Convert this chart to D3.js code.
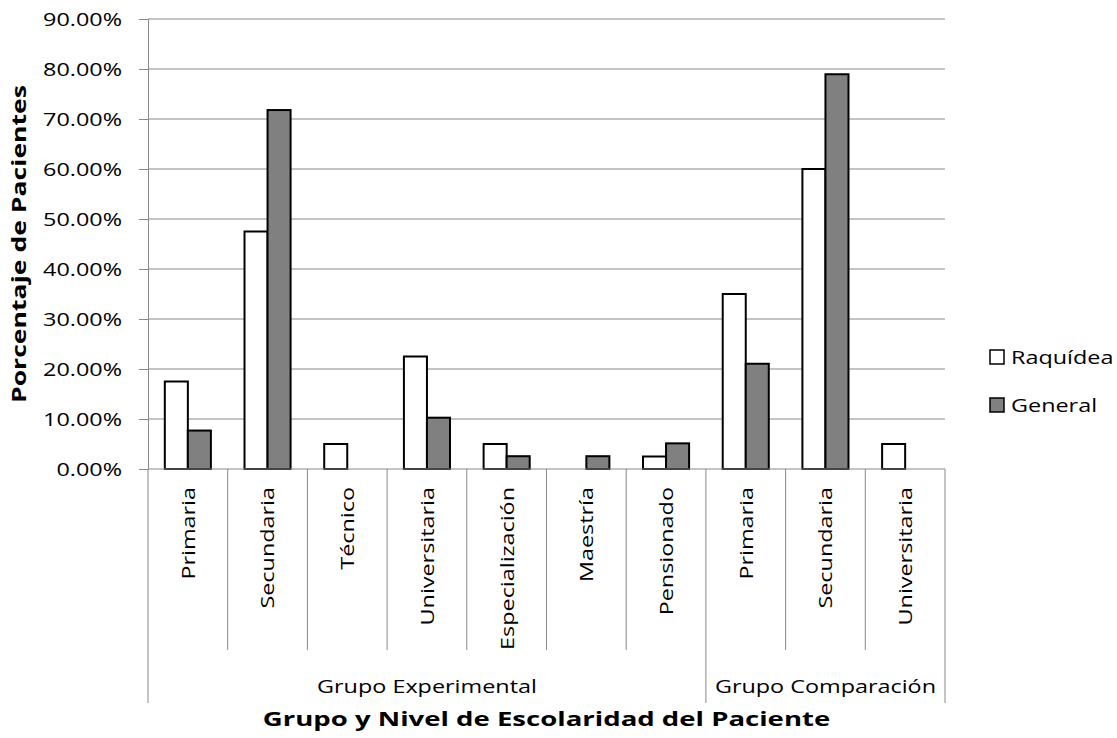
<html>
<head>
<meta charset="utf-8">
<title>Grupo y Nivel de Escolaridad del Paciente</title>
<script src="https://cdn.jsdelivr.net/npm/d3@7"></script>
<style>
  body { margin: 0; background: #fff; }
  text { font-family: "Open Sans", "Noto Sans", sans-serif; fill: #000; }
</style>
</head>
<body>
<div id="chart"></div>
<script>
// data
var categories = ["Primaria", "Secundaria", "Técnico", "Universitaria", "Especialización",
                  "Maestría", "Pensionado", "Primaria", "Secundaria", "Universitaria"];
var groupNames = ["Grupo Experimental", "Grupo Comparación"];
var groupSizes = [7, 3];
var seriesNames = ["Raquídea", "General"];
var raquidea = [17.5, 47.5, 5, 22.5, 5, 0, 2.5, 35, 60, 5];
var general = [7.69, 71.79, 0, 10.26, 2.56, 2.56, 5.13, 21.05, 78.95, 0];
var yTicks = [0, 10, 20, 30, 40, 50, 60, 70, 80, 90];

// view settings (plotTop, not "top": that name is taken by window.top)
var width = 1117, height = 738;
var plotLeft = 148, plotRight = 945, plotTop = 19, plotBottom = 469;
var stretch = 1.3;      // the original text is drawn wider than normal
var gridColor = "#898989";
var fills = ["#ffffff", "#808080"];

var svg = d3.select("#chart").append("svg")
    .attr("width", width)
    .attr("height", height);

var idx = d3.range(categories.length);

var x = d3.scaleBand().domain(idx).range([plotLeft, plotRight]).padding(0);
var xs = d3.scaleBand().domain(seriesNames).range([0, x.bandwidth()])
    .paddingInner(0).paddingOuter(0.73);
var y = d3.scaleLinear().domain([0, 90]).range([plotBottom, plotTop]);

// gridlines
svg.append("g").selectAll("line")
    .data(yTicks.filter(function(d) { return d > 0; }))
    .enter().append("line")
    .attr("x1", plotLeft).attr("x2", plotRight)
    .attr("y1", function(d) { return y(d); })
    .attr("y2", function(d) { return y(d); })
    .attr("stroke", gridColor).attr("stroke-width", 1);

// y axis
var yAxis = svg.append("g")
    .attr("transform", "translate(" + plotLeft + ",0)")
    .call(d3.axisLeft(y).tickValues(yTicks).tickSize(9).tickPadding(0)
        .tickFormat(function(d) { return d3.format(".2f")(d) + "%"; }));
yAxis.select(".domain").attr("stroke", gridColor);
yAxis.selectAll(".tick line").attr("stroke", gridColor);
yAxis.selectAll(".tick text")
    .attr("x", null).attr("dy", null)
    .attr("font-size", 18)
    .attr("fill", "#000")
    .attr("text-anchor", "end")
    .attr("dominant-baseline", "central")
    .attr("transform", "translate(-26,0) scale(" + stretch + ",1)");

// bars
var series = [raquidea, general];
series.forEach(function(vals, s) {
    svg.append("g").selectAll("rect")
        .data(idx.filter(function(i) { return vals[i] > 0; }))
        .enter().append("rect")
        .attr("x", function(i) { return x(i) + xs(seriesNames[s]); })
        .attr("y", function(i) { return y(vals[i]); })
        .attr("width", xs.bandwidth())
        .attr("height", function(i) { return y(0) - y(vals[i]); })
        .attr("fill", fills[s])
        .attr("stroke", "#000")
        .attr("stroke-width", 2);
});

// bottom axis line
svg.append("line")
    .attr("x1", plotLeft).attr("x2", plotRight)
    .attr("y1", plotBottom).attr("y2", plotBottom)
    .attr("stroke", gridColor);

// category separators: short inside a group, long at group edges
var groupEdges = [0];
groupSizes.forEach(function(n, g) { groupEdges.push(groupEdges[g] + n); });
svg.append("g").selectAll("line")
    .data(d3.range(categories.length + 1))
    .enter().append("line")
    .attr("x1", function(i) { return plotLeft + i * x.step(); })
    .attr("x2", function(i) { return plotLeft + i * x.step(); })
    .attr("y1", plotBottom)
    .attr("y2", function(i) { return groupEdges.indexOf(i) >= 0 ? 703 : 650; })
    .attr("stroke", gridColor);

// category labels
svg.append("g").selectAll("text")
    .data(idx)
    .enter().append("text")
    .attr("transform", function(i) {
        return "translate(" + (x(i) + x.bandwidth() / 2) + ",487) rotate(-90) scale(" + stretch + ",1)";
    })
    .attr("text-anchor", "end")
    .attr("dominant-baseline", "central")
    .attr("font-size", 18)
    .text(function(i) { return categories[i]; });

// group labels
svg.append("g").selectAll("text")
    .data(groupNames)
    .enter().append("text")
    .attr("transform", function(d, g) {
        var cx = plotLeft + (groupEdges[g] + groupEdges[g + 1]) / 2 * x.step();
        return "translate(" + cx + ",686) scale(" + stretch + ",1)";
    })
    .attr("text-anchor", "middle")
    .attr("dominant-baseline", "central")
    .attr("font-size", 18)
    .text(function(d) { return d; });

// axis titles
svg.append("text")
    .attr("transform", "translate(" + (plotLeft + plotRight) / 2 + ",719) scale(1.45,1)")
    .attr("text-anchor", "middle")
    .attr("dominant-baseline", "central")
    .attr("font-size", 19)
    .attr("font-weight", "bold")
    .text("Grupo y Nivel de Escolaridad del Paciente");

svg.append("text")
    .attr("transform", "translate(19," + (plotTop + plotBottom) / 2 + ") rotate(-90) scale(1.4,1)")
    .attr("text-anchor", "middle")
    .attr("dominant-baseline", "central")
    .attr("font-size", 19)
    .attr("font-weight", "bold")
    .text("Porcentaje de Pacientes");

// legend
var legend = svg.append("g").selectAll("g")
    .data(seriesNames)
    .enter().append("g")
    .attr("transform", function(d, s) { return "translate(990," + (357 + s * 48) + ")"; });
legend.append("rect")
    .attr("x", 0).attr("y", -7)
    .attr("width", 14).attr("height", 14)
    .attr("fill", function(d, s) { return fills[s]; })
    .attr("stroke", "#000").attr("stroke-width", 1.5);
legend.append("text")
    .attr("transform", "translate(21,0) scale(" + stretch + ",1)")
    .attr("dominant-baseline", "central")
    .attr("font-size", 18)
    .text(function(d) { return d; });
</script>
</body>
</html>
